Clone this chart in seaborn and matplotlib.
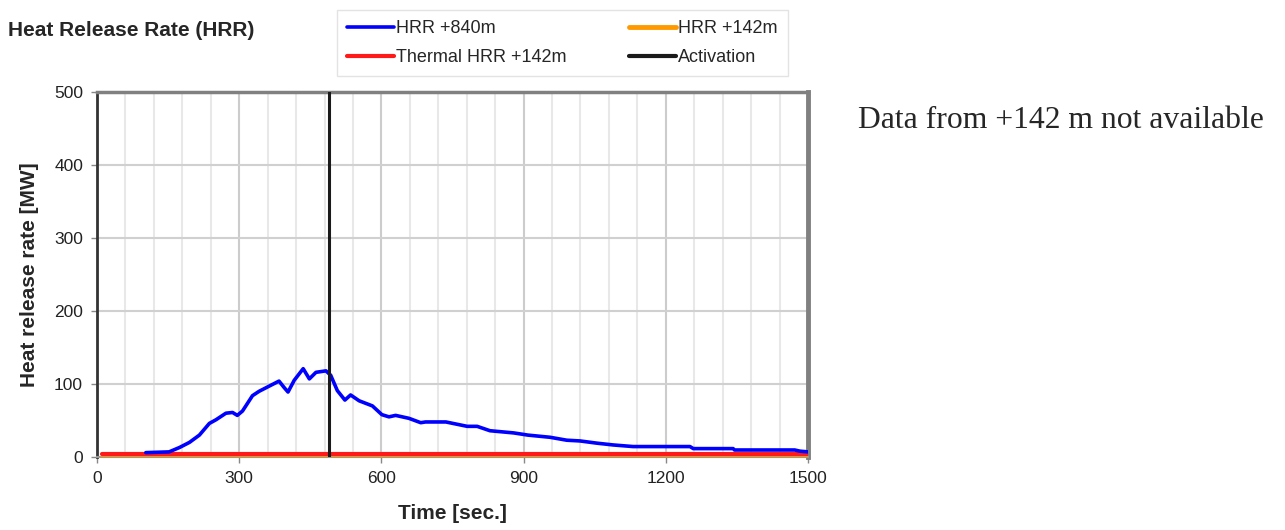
import numpy as np
import pandas as pd
import matplotlib
matplotlib.use("Agg")
import matplotlib.pyplot as plt
import seaborn as sns
from matplotlib.lines import Line2D
from matplotlib.ticker import MultipleLocator

# values
time_840 = [103, 152, 174, 195, 216, 237, 251, 272, 286, 296, 307, 328, 342, 360,
            384, 395, 403, 416, 435, 448, 462, 483, 493, 507, 523, 535, 553, 581,
            601, 616, 630, 658, 683, 693, 736, 781, 802, 829, 879, 909, 956, 991,
            1019, 1054, 1089, 1131, 1251, 1258, 1342, 1345, 1472, 1483, 1500]
hrr_840 = [6, 7, 13, 20, 30, 46, 51, 60, 61, 57, 63, 84, 90, 96,
           104, 95, 89, 105, 121, 107, 116, 118, 112, 91, 78, 85, 77, 70,
           58, 55, 57, 53, 47, 48, 48, 42, 42, 36, 33, 30, 27, 23,
           22, 19, 16.5, 14.3, 14.3, 11.5, 11.5, 9.6, 9.6, 8, 7]
time_142 = [10, 1500]
hrr_142 = [0, 0]
thermal_142 = [4.5, 4.5]
activation_time = 490

title = "Heat Release Rate (HRR)"
series_names = ["HRR +840m", "HRR +142m", "Thermal HRR +142m", "Activation"]
series_colors = ["#0000ff", "#ff9900", "#ff1a1a", "#1a1a1a"]
note = "Data from +142 m not available"

sns.set_style("white")
plt.rcParams['font.family'] = ['Liberation Sans', 'DejaVu Sans']

fig = plt.figure(figsize=(12.85, 5.3), dpi=100)
ax = fig.add_axes([97 / 1285, 1 - 457 / 530, 711 / 1285, 365 / 530])

df840 = pd.DataFrame({"t": time_840, "hrr": hrr_840})
df142 = pd.DataFrame({"t": time_142, "hrr": hrr_142, "th": thermal_142})

sns.lineplot(data=df142, x="t", y="hrr", ax=ax, color=series_colors[1], lw=3.5,
             legend=False, zorder=3)
sns.lineplot(data=df142, x="t", y="th", ax=ax, color=series_colors[2], lw=3,
             legend=False, zorder=4)
sns.lineplot(data=df840, x="t", y="hrr", ax=ax, color=series_colors[0], lw=2.6,
             legend=False, zorder=5)
ax.axvline(activation_time, color=series_colors[3], lw=2.2, zorder=6)

ax.set_xlim(0, 1500)
ax.set_ylim(0, 500)
ax.xaxis.set_major_locator(MultipleLocator(300))
ax.xaxis.set_minor_locator(MultipleLocator(60))
ax.yaxis.set_major_locator(MultipleLocator(100))
ax.grid(which="minor", axis="x", color="#e8e8e8", lw=1.5)
ax.grid(which="major", axis="x", color="#cccccc", lw=1.5)
ax.grid(which="major", axis="y", color="#d0d0d0", lw=1.5)
ax.set_axisbelow(True)

ax.spines["left"].set_color("#333333")
ax.spines["left"].set_linewidth(2)
ax.spines["bottom"].set_color("#999999")
ax.spines["bottom"].set_linewidth(1.5)
ax.spines["top"].set_color("#808080")
ax.spines["top"].set_linewidth(2.5)
ax.spines["right"].set_color("#808080")
ax.spines["right"].set_linewidth(3.5)

ax.tick_params(axis="both", which="major", direction="out", length=4, width=1,
               color="#888888", labelsize=12.5, labelcolor="#222222", pad=6)
ax.tick_params(axis="x", which="minor", length=0)
ax.tick_params(left=True, bottom=True)

ax.set_xlabel("Time [sec.]", fontsize=15, fontweight="bold", labelpad=13)
ax.set_ylabel("Heat release rate [MW]", fontsize=15, fontweight="bold", labelpad=11)

# legend rows: (HRR +840m, HRR +142m), (Thermal HRR +142m, Activation)
widths = [2.6, 3.5, 3, 3]
handles = [Line2D([], [], color=c, lw=w) for c, w in zip(series_colors, widths)]
col_order = [0, 2, 1, 3]
leg = fig.legend([handles[i] for i in col_order], [series_names[i] for i in col_order],
                 loc="upper left", bbox_to_anchor=(337 / 1285, 1 - 10 / 530),
                 ncol=2, frameon=True, fancybox=False, fontsize=13,
                 handlelength=2.6, handletextpad=0.1, columnspacing=3.5,
                 borderpad=0.55, labelspacing=0.68, borderaxespad=0)
leg.get_frame().set_edgecolor("#dddddd")
leg.get_frame().set_linewidth(1)

fig.text(8 / 1285, 1 - 30 / 530, title, fontsize=15, fontweight="bold",
         va="center", ha="left")
fig.text(858 / 1285, 1 - 128 / 530, note, fontsize=22.8,
         family=["Liberation Serif", "DejaVu Serif"], va="baseline", ha="left")

fig.savefig("out.png", dpi=100)
